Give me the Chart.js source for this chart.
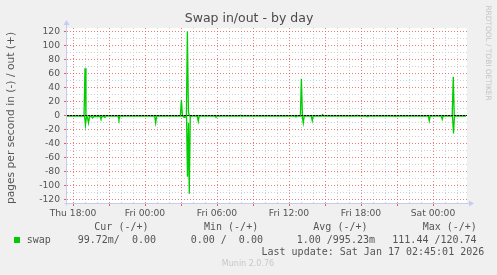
<!DOCTYPE html>
<html>
<head>
<meta charset="utf-8">
<script src="https://cdn.jsdelivr.net/npm/chart.js@4/dist/chart.umd.min.js"></script>
<style>
  html, body { margin: 0; padding: 0; background: #f0f0f0; }
  canvas { display: block; }
</style>
</head>
<body>
<canvas id="c" width="497" height="275"></canvas>
<script>
// ---- data (time in hours since Thu 00:00) ----
const outHours  = [17.5, 18.92, 19.0, 19.08, 26.95, 27.03, 27.12, 27.45, 27.53, 27.62, 27.7, 31.88, 31.97, 32.05, 36.95, 37.03, 37.12, 38.71, 38.79, 38.88, 41.58, 41.67, 41.75, 49.6, 49.69, 49.77, 50.75];
const outValues = [0, 0, 68, 0, 0, 23, 0, 0, 120.7, 6, 0, 0, 1, 0, 0, 53, 0, 0, 2, 0, 0, 1, 0, 0, 56, 0, 0];

const inHours  = [17.5, 18.96, 19.04, 19.12, 19.21, 19.29, 19.38, 19.54, 19.63, 19.71, 20.25, 20.33, 20.42, 20.58, 20.67, 20.75, 21.75, 21.83, 21.92, 24.8, 24.89, 24.97, 27.17, 27.25, 27.33, 27.46, 27.54, 27.62, 27.69, 27.77, 28.35, 28.44, 28.52, 29.83, 29.92, 30.0, 36.5, 36.58, 36.67, 37.1, 37.19, 37.27, 37.85, 37.94, 38.02, 42.42, 42.5, 42.58, 44.8, 44.89, 44.97, 47.6, 47.69, 47.77, 48.69, 48.77, 48.85, 49.62, 49.71, 49.79, 50.75];
const inValues = [0, 0, -13, -1, -2, -10, -1, -1, -3, -1, -1, -4, -1, -1, -2, 0, 0, -5, 0, 0, -10, 0, 0, -2, 0, 0, -87, -10, -111.4, 0, 0, -8, 0, 0, -2, 0, 0, -1, 0, 0, -10, 0, 0, -7, 0, 0, -1, 0, 0, -1, 0, 0, -7, 0, 0, -5, 0, 0, -25, 0, 0];

const xMin = 17.5, xMax = 50.833;
const yMin = -124.6, yMax = 125.7;
const dayNames = ['Thu', 'Fri', 'Sat'];

const legendHeaders = ['Cur (-/+)', 'Min (-/+)', 'Avg (-/+)', 'Max (-/+)'];
const legendValues  = ['99.72m/  0.00', '0.00 /  0.00', '1.00 /995.23m', '111.44 /120.74'];
const seriesName = 'swap';
const titleText = 'Swap in/out - by day';
const yTitle = 'pages per second in (-) / out (+)';
const lastUpdate = 'Last update: Sat Jan 17 02:45:01 2026';
const footer = 'Munin 2.0.76';
const watermark = 'RRDTOOL / TOBI OETIKER';

const green = '#00cc00';
const majorGrid = 'rgba(232,80,80,0.75)';
const minorGrid = '#d0d0d0';
const axisBlue = '#c4ccf2';

function pts(xs, ys) { return xs.map((x, i) => ({ x: x, y: ys[i] })); }

function isMult(v, m) { return Math.abs(v / m - Math.round(v / m)) < 1e-6; }

function fmtHour(v) {
  const d = Math.floor(v / 24 + 1e-9);
  const h = Math.round(v - d * 24);
  return dayNames[d] + ' ' + String(h).padStart(2, '0') + ':00';
}

const decor = {
  id: 'decor',
  beforeDraw(chart) {
    const { ctx, chartArea: a } = chart;
    ctx.save();
    ctx.fillStyle = '#f0f0f0';
    ctx.fillRect(0, 0, chart.width, chart.height);
    ctx.fillStyle = '#ffffff';
    ctx.fillRect(a.left, a.top, a.right - a.left, a.bottom - a.top);
    ctx.restore();
  },
  afterDatasetsDraw(chart) {
    const { ctx, chartArea: a, scales } = chart;
    const y0 = Math.round(scales.y.getPixelForValue(0)) - 0.5;
    ctx.save();
    // zero line
    ctx.strokeStyle = '#000';
    ctx.lineWidth = 1;
    ctx.setLineDash([2, 1]);
    ctx.beginPath(); ctx.moveTo(a.left, y0); ctx.lineTo(a.right, y0); ctx.stroke();
    ctx.setLineDash([]);
    // axes
    ctx.strokeStyle = axisBlue;
    ctx.fillStyle = axisBlue;
    const xl = a.left - 0.5, yb = a.bottom + 0.5;
    ctx.beginPath(); ctx.moveTo(xl, yb + 2); ctx.lineTo(xl, a.top - 4); ctx.stroke();
    ctx.beginPath(); ctx.moveTo(xl - 3, a.top - 3); ctx.lineTo(xl + 3, a.top - 3); ctx.lineTo(xl, a.top - 8); ctx.closePath(); ctx.fill();
    ctx.beginPath(); ctx.moveTo(xl - 2, yb); ctx.lineTo(a.right + 3, yb); ctx.stroke();
    ctx.beginPath(); ctx.moveTo(a.right + 2, yb - 3); ctx.lineTo(a.right + 2, yb + 3); ctx.lineTo(a.right + 7, yb); ctx.closePath(); ctx.fill();
    ctx.restore();
  },
  afterDraw(chart) {
    const { ctx } = chart;
    ctx.save();
    // title
    ctx.fillStyle = '#4a4a4a';
    ctx.font = '12.5px "DejaVu Sans"';
    ctx.textAlign = 'center';
    ctx.textBaseline = 'middle';
    ctx.fillText(titleText, 249, 19);
    // y title
    ctx.save();
    ctx.translate(11.5, 118);
    ctx.rotate(-Math.PI / 2);
    ctx.font = '10.7px "DejaVu Sans"';
    ctx.fillStyle = '#555';
    ctx.fillText(yTitle, 0, 0);
    ctx.restore();
    // watermark
    ctx.save();
    ctx.translate(488, 53);
    ctx.rotate(Math.PI / 2);
    ctx.font = '7.4px "DejaVu Sans"';
    ctx.fillStyle = '#c4c4c4';
    ctx.fillText(watermark, 0, 0);
    ctx.restore();
    // legend table
    ctx.font = '10px "DejaVu Sans Mono"';
    ctx.fillStyle = '#555';
    ctx.textAlign = 'left';
    const hx = [94.3, 204, 313.3, 422.7];
    legendHeaders.forEach((t, i) => ctx.fillText(t, hx[i], 227.5));
    const vx = [77.7, 190.7, 296.7, 392.3];
    legendValues.forEach((t, i) => ctx.fillText(t, vx[i], 240));
    ctx.fillText(seriesName, 26.7, 240);
    ctx.fillText(lastUpdate, 261.5, 252);
    ctx.fillStyle = green;
    ctx.fillRect(14, 237, 6, 6);
    // footer
    ctx.font = '8px "DejaVu Sans"';
    ctx.fillStyle = '#c8c8c8';
    ctx.textAlign = 'center';
    ctx.fillText(footer, 248, 264);
    ctx.restore();
  }
};

new Chart(document.getElementById('c'), {
  type: 'line',
  data: {
    datasets: [
      { label: 'out', data: pts(outHours, outValues), borderColor: green, borderWidth: 1.3, pointRadius: 0, tension: 0, fill: false },
      { label: 'in',  data: pts(inHours, inValues),  borderColor: green, borderWidth: 1.3, pointRadius: 0, tension: 0, fill: false }
    ]
  },
  options: {
    responsive: false,
    animation: false,
    events: [],
    layout: { padding: { left: 0, right: 30, top: 28, bottom: 52 } },
    plugins: { legend: { display: false }, title: { display: false }, tooltip: { enabled: false } },
    scales: {
      x: {
        type: 'linear', min: xMin, max: xMax,
        afterFit(s) { s.height = 20; },
        border: { display: false, dash: [1, 2] },
        grid: {
          borderDash: [1, 2],
          tickLength: 3,
          tickBorderDash: [],
          color: c => (c.tick && isMult(c.tick.value, 3)) ? majorGrid : minorGrid,
          tickColor: c => (c.tick && isMult(c.tick.value, 3)) ? 'rgba(225,60,60,0.8)' : 'rgba(0,0,0,0)'
        },
        ticks: {
          stepSize: 1, includeBounds: false, autoSkip: false, maxRotation: 0, minRotation: 0, padding: 2,
          color: '#555', font: { family: 'DejaVu Sans', size: 9.2 },
          callback: v => isMult(v, 6) ? fmtHour(v) : ''
        }
      },
      y: {
        type: 'linear', min: yMin, max: yMax,
        afterFit(s) { s.width = 67; },
        border: { display: false, dash: [1, 2] },
        grid: {
          borderDash: [1, 2],
          tickLength: 3,
          tickBorderDash: [],
          color: c => (c.tick && isMult(c.tick.value, 20)) ? majorGrid : minorGrid,
          tickColor: c => (c.tick && isMult(c.tick.value, 20)) ? 'rgba(225,60,60,0.8)' : 'rgba(0,0,0,0)'
        },
        ticks: {
          stepSize: 10, includeBounds: false, autoSkip: false, padding: 4,
          color: '#555', font: { family: 'DejaVu Sans', size: 9.2 },
          callback: v => isMult(v, 20) ? String(Math.round(v)) : ''
        }
      }
    }
  },
  plugins: [decor]
});
</script>
</body>
</html>
